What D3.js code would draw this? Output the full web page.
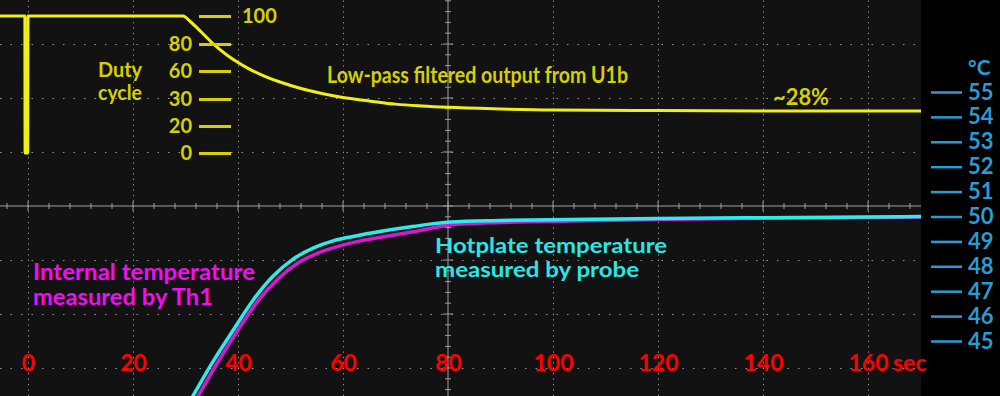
<!DOCTYPE html>
<html>
<head>
<meta charset="utf-8">
<script src="https://cdn.jsdelivr.net/npm/d3@7/dist/d3.min.js"></script>
<style>
  body { margin: 0; background: #000; }
  text { font-family: Lato, "Open Sans", sans-serif; }
</style>
</head>
<body>
<div id="chart-area"></div>
<script>
// DATA

let timeTicks = [0, 20, 40, 60, 80, 100, 120, 140, 160];
let dutyTicks = [0, 20, 30, 60, 80, 100];
let tempTicks = [45, 46, 47, 48, 49, 50, 51, 52, 53, 54, 55];
let divisions = [-3, -2, -1, 0, 1, 2, 3];

// duty cycle trace (sec, %)
let dutyTime = [-5.4, -0.6, -0.55, -0.05, 0, 29.5, 31, 33, 35.5, 38, 40, 42, 45, 48, 52, 56, 60, 65, 70, 75, 80, 90, 100, 120, 140, 160, 170.2];
let dutyValue = [100, 100, 0, 0, 100, 100, 95.7, 88.6, 79.3, 71.5, 66.3, 61.8, 54.6, 48.2, 41.3, 35.9, 31.6, 29.3, 28.1, 27.4, 26.9, 26.3, 25.9, 25.7, 25.6, 25.6, 25.6];

// hotplate probe (sec, °C)
let probeTime = [29.1, 31.4, 35.2, 39.1, 42.9, 46.7, 50.5, 54.3, 58.1, 61.9, 67.6, 73.3, 80.4, 89.9, 103.2, 119.8, 147.0, 170.2];
let probeTemp = [41.95, 42.79, 44.16, 45.44, 46.65, 47.61, 48.29, 48.73, 49.02, 49.2, 49.42, 49.6, 49.78, 49.84, 49.88, 49.92, 49.96, 50.0];

// internal Th1 (sec, °C)
let th1Time = [30.1, 32.4, 36.2, 40.0, 43.8, 47.6, 51.4, 55.2, 59.1, 62.9, 68.6, 74.3, 80.4, 89.9, 103.2, 119.8, 147.0, 170.2];
let th1Temp = [41.95, 42.79, 44.16, 45.44, 46.61, 47.49, 48.13, 48.53, 48.8, 49.0, 49.22, 49.42, 49.66, 49.76, 49.82, 49.88, 49.94, 49.98];

// CHART AREA

let width = 1000,
  height = 396,
  screenW = 921;

let svg = d3
  .select("#chart-area")
  .append("svg")
  .attr("width", width)
  .attr("height", height)
  .style("display", "block");

svg.append("rect").attr("width", width).attr("height", height).attr("fill", "#000");
svg.append("rect").attr("width", screenW).attr("height", height).attr("fill", "#121212");

svg.append("clipPath").attr("id", "screen")
  .append("rect").attr("width", screenW).attr("height", height);

// SCALES

let x = d3.scaleLinear().domain([0, 160]).range([28, 868]);
let yDiv = d3.scaleLinear().domain([-3, 3]).range([368, 44]);
let yDuty = d3.scaleLinear().domain(dutyTicks).range([153, 126, 99, 71, 44, 16]);
let yTemp = d3.scaleLinear().domain([45, 55]).range([341, 92]);

// GRID

let gridX = svg.append("g")
  .attr("transform", "translate(0," + height + ")")
  .call(d3.axisBottom(x).tickValues(timeTicks.filter(d => d != 80)).tickSize(-height).tickFormat(""));
gridX.select(".domain").remove();
gridX.selectAll("line").attr("stroke", "#9a9a9a").attr("stroke-dasharray", "1.3,4.1");

let gridY = svg.append("g")
  .call(d3.axisLeft(yDiv).tickValues(divisions.filter(d => d != 0)).tickSize(-screenW).tickFormat(""));
gridY.select(".domain").remove();
gridY.selectAll("line").attr("stroke", "#9a9a9a").attr("stroke-dasharray", "1.5,9");

// center graticule with minor ticks
let center = svg.append("g").attr("stroke", "#a0a0a0");
center.append("line")
  .attr("x1", 0).attr("x2", screenW)
  .attr("y1", yDiv(0)).attr("y2", yDiv(0));
center.append("line")
  .attr("x1", x(80)).attr("x2", x(80))
  .attr("y1", 0).attr("y2", height);
center.selectAll(".htick")
  .data(d3.range(-4, 172, 4))
  .enter().append("line")
  .attr("x1", d => x(d)).attr("x2", d => x(d))
  .attr("y1", d => yDiv(0) - (d % 20 == 0 ? 5 : 3))
  .attr("y2", d => yDiv(0) + (d % 20 == 0 ? 5 : 3));
center.selectAll(".vtick")
  .data(d3.range(-19, 20).map(d => d / 5))
  .enter().append("line")
  .attr("x1", d => x(80) - (Math.abs(d % 1) < 0.01 ? 5 : 3))
  .attr("x2", d => x(80) + (Math.abs(d % 1) < 0.01 ? 5 : 3))
  .attr("y1", d => yDiv(d)).attr("y2", d => yDiv(d));

// TRACES

let traces = svg.append("g").attr("clip-path", "url(#screen)");

let dutyLine = d3.line()
  .curve(d3.curveMonotoneX)
  .x((d, i) => x(dutyTime[i]))
  .y(d => yDuty(d));

traces.append("path")
  .datum(dutyValue)
  .attr("d", dutyLine)
  .attr("fill", "none")
  .attr("stroke", "#f0f014")
  .attr("stroke-width", 3);

let tempLine = function(times) {
  return d3.line()
    .curve(d3.curveMonotoneX)
    .x((d, i) => x(times[i]))
    .y(d => yTemp(d));
};

traces.append("path")
  .datum(th1Temp)
  .attr("d", tempLine(th1Time))
  .attr("fill", "none")
  .attr("stroke", "#d21ad2")
  .attr("stroke-width", 3.5);

traces.append("path")
  .datum(probeTemp)
  .attr("d", tempLine(probeTime))
  .attr("fill", "none")
  .attr("stroke", "#2cecec")
  .attr("stroke-width", 3.5);

// AXES

let yellowText = "#d6d000";
let blue = "#2b9bd4";

let dutyAxis = svg.append("g")
  .attr("transform", "translate(231,0)")
  .call(d3.axisLeft(yDuty).tickValues(dutyTicks).tickSize(32).tickPadding(7));
dutyAxis.select(".domain").remove();
dutyAxis.selectAll("line").attr("stroke", yellowText).attr("stroke-width", 3);
dutyAxis.selectAll("text")
  .attr("fill", yellowText)
  .style("font-size", "20px")
  .style("font-weight", "bold")
  .style("font-family", "Lato");
dutyAxis.selectAll(".tick")
  .filter(d => d == 100)
  .select("text")
  .attr("x", 11)
  .attr("text-anchor", "start");

let tempAxis = svg.append("g")
  .attr("transform", "translate(931,0)")
  .call(d3.axisRight(yTemp).tickValues(tempTicks).tickSize(31).tickPadding(6));
tempAxis.select(".domain").remove();
tempAxis.selectAll("line").attr("stroke", blue).attr("stroke-width", 2.5);
tempAxis.selectAll("text")
  .attr("fill", blue)
  .style("font-size", "22px")
  .style("font-weight", "bold")
  .style("font-family", "Lato");

svg.append("text")
  .attr("x", 968).attr("y", 75)
  .attr("fill", blue)
  .style("font-size", "21px")
  .style("font-weight", "bold")
  .text("°C");

let timeAxis = svg.append("g")
  .attr("transform", "translate(0,371)")
  .call(d3.axisBottom(x).tickValues(timeTicks).tickSize(0).tickPadding(0));
timeAxis.select(".domain").remove();
timeAxis.selectAll("text")
  .attr("y", 0).attr("dy", 0)
  .attr("fill", "#ff0000")
  .style("font-size", "23px")
  .style("font-weight", "bold")
  .style("font-family", "Lato");

svg.append("text")
  .attr("x", x(160) + 25).attr("y", 371)
  .attr("fill", "#ff0000")
  .style("font-size", "23px")
  .style("font-weight", "bold")
  .text("sec");

// LABELS

function label(txt, px, py, color, len, size, anchor) {
  svg.append("text")
    .attr("x", px).attr("y", py)
    .attr("fill", color)
    .attr("text-anchor", anchor || "start")
    .attr("textLength", len)
    .attr("lengthAdjust", "spacingAndGlyphs")
    .style("font-size", size + "px")
    .style("font-weight", "bold")
    .text(txt);
}

label("Duty", 120, 77, yellowText, 44, 21, "middle");
label("cycle", 120, 100, yellowText, 44, 21, "middle");
label("Low-pass filtered output from U1b", 327, 83, yellowText, 301, 23);
label("~28%", 773, 105, yellowText, 56, 22);
label("Internal temperature", 33, 280, "#ee10ee", 222, 22);
label("measured by Th1", 33, 305, "#ee10ee", 180, 22);
label("Hotplate temperature", 435, 252.5, "#2ce6e6", 232, 21);
label("measured by probe", 435, 277, "#2ce6e6", 204, 20);
</script>
</body>
</html>
